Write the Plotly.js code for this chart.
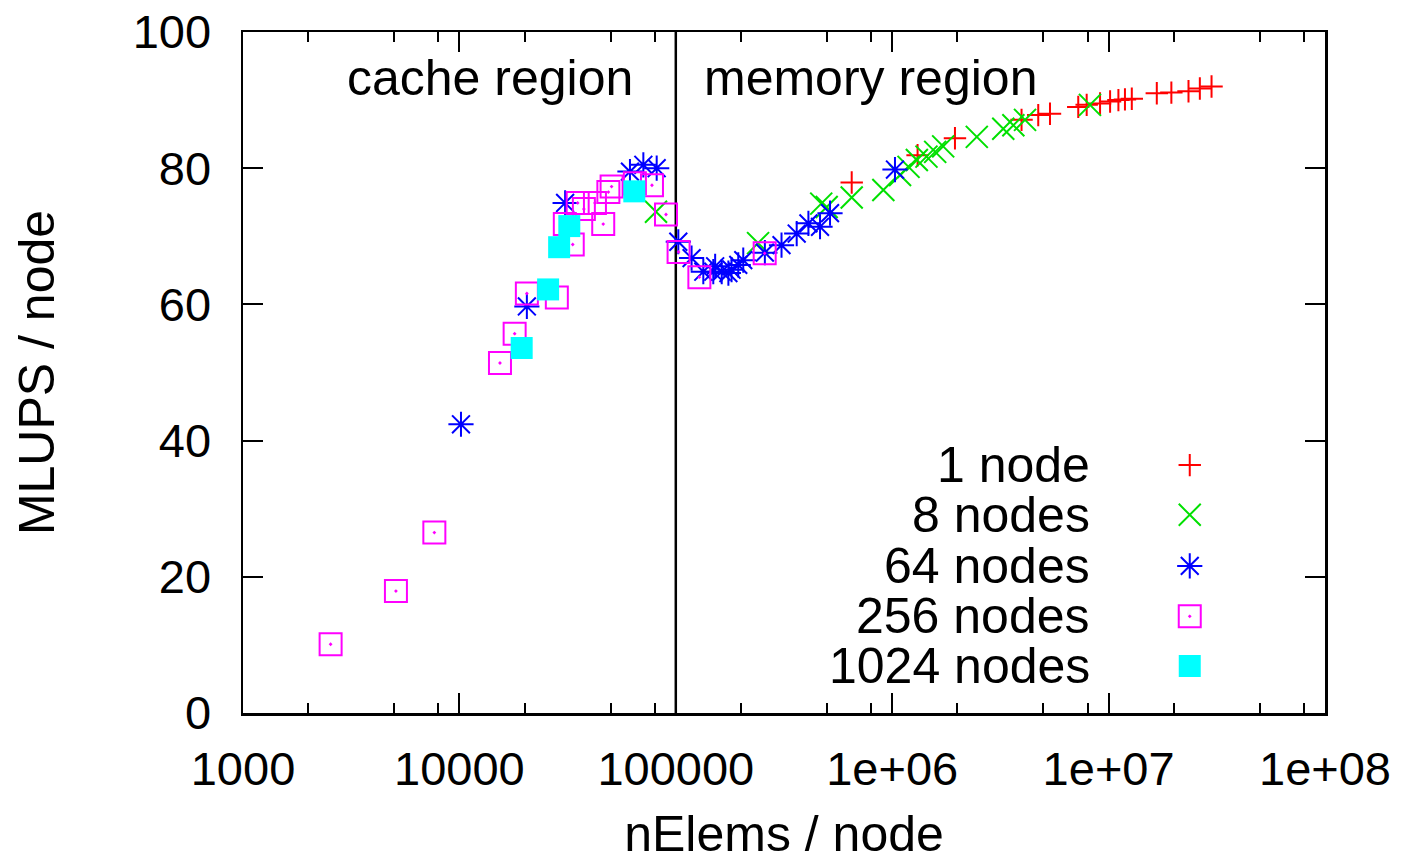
<!DOCTYPE html>
<html>
<head>
<meta charset="utf-8">
<script src="https://cdn.plot.ly/plotly-3.0.1.min.js"></script>
<style>html,body{margin:0;padding:0;background:#fff;}#chart{width:1407px;height:862px;}</style>
</head>
<body>
<div id="chart"></div>
<script>
// ---- data ----
const n1_x = [650000, 1310000, 1950000, 3960000, 4730000, 5360000, 7240000, 7920000, 9130000, 10160000, 11100000, 11900000, 12800000, 16700000, 19500000, 23400000, 26400000, 29900000];
const n1_y = [77.9, 81.9, 84.4, 87.1, 87.8, 88.0, 89.0, 89.3, 89.5, 89.8, 90.0, 90.1, 90.2, 91.0, 91.1, 91.3, 91.7, 92.0];

const n8_x = [81000, 240000, 470000, 498000, 650000, 910000, 1087000, 1190000, 1300000, 1440000, 1580000, 1720000, 2460000, 3260000, 3630000, 4110000, 8200000];
const n8_y = [73.6, 69.0, 74.8, 74.3, 75.7, 76.8, 79.0, 80.2, 81.2, 81.7, 82.4, 83.2, 84.6, 85.8, 86.3, 87.1, 89.3];

const n64_x = [10170, 20500, 30800, 61400, 70800, 81600, 102700, 118300, 134000, 149000, 152000, 163000, 175000, 181000, 194400, 205000, 258000, 308000, 362000, 410000, 464000, 516000, 1030000];
const n64_y = [42.4, 59.7, 74.9, 79.5, 80.5, 80.0, 69.2, 66.8, 64.8, 64.8, 65.6, 64.8, 64.6, 65.1, 65.8, 66.5, 67.6, 68.7, 70.4, 71.9, 71.4, 73.4, 79.8];

const n256_x = [2540, 5090, 7660, 15400, 18000, 20500, 28200, 30700, 33400, 35200, 37600, 42300, 46200, 48800, 50500, 64700, 77600, 90100, 103000, 128500, 257500];
const n256_y = [10.1, 17.9, 26.5, 51.4, 55.7, 61.6, 61.0, 71.8, 68.8, 74.9, 74.0, 74.9, 71.8, 76.5, 77.3, 77.8, 77.5, 73.2, 67.7, 64.0, 67.5];

const n1024_x = [19400, 25700, 28900, 32200, 64300];
const n1024_y = [53.6, 62.2, 68.4, 71.5, 76.6];

const seriesNames = ["1 node", "8 nodes", "64 nodes", "256 nodes", "1024 nodes"];
const boundary_x = [100000, 100000];
const boundary_y = [0, 100];
const xTickVals = [1000, 10000, 100000, 1e6, 1e7, 1e8];
const xTickText = ["1000", "10000", "100000", "1e+06", "1e+07", "1e+08"];
const xMinorMult = [2, 5, 8];
const yTickVals = [0, 20, 40, 60, 80, 100];
const regionLabels = ["cache region", "memory region"];

// ---- styles ----
const FONT = "Liberation Sans, Arial, Helvetica, sans-serif";
const FS = 50;      // titles, key, labels
const TFS = 47;     // tick labels
const styles = [
  {symbol: "cross-thin-open", size: 16, color: "#ff0000"},
  {symbol: "x-thin-open", size: 22, color: "#00e000"},
  {symbol: "asterisk-open", size: 21, color: "#0000ff"},
  {symbol: "square-open-dot", size: 22, color: "#ff00ff"},
  {symbol: "square", size: 22, color: "#00ffff"}
];
const xs = [n1_x, n8_x, n64_x, n256_x, n1024_x];
const ys = [n1_y, n8_y, n64_y, n256_y, n1024_y];

function mk(i) {
  const s = styles[i];
  const m = {symbol: s.symbol, size: s.size, color: s.color, line: {color: s.color, width: 2}};
  if (s.symbol === "square") m.line = {width: 0};
  return m;
}

const traces = [];
traces.push({x: boundary_x, y: boundary_y, mode: "lines", line: {color: "#000", width: 2.5}, hoverinfo: "skip", showlegend: false});
for (let i = 0; i < 5; i++) {
  traces.push({x: xs[i], y: ys[i], mode: "markers", name: seriesNames[i], marker: mk(i), showlegend: false});
}

// custom gnuplot-style key: text right-aligned, sample on right
const keyY = [0.364, 0.291, 0.216, 0.142, 0.069];
const keySymX = 0.875, keyTextX = 0.785;
for (let i = 0; i < 5; i++) {
  traces.push({x: [keySymX], y: [keyY[i]], xaxis: "x2", yaxis: "y2", mode: "markers", marker: mk(i), showlegend: false, hoverinfo: "skip"});
}

const minorVals = [];
for (let d = 1000; d < 1e8; d *= 10) xMinorMult.forEach(m => minorVals.push(m * d));

const annotations = [];
for (let i = 0; i < 5; i++) {
  annotations.push({xref: "paper", yref: "paper", x: keyTextX, y: keyY[i], xanchor: "right", yanchor: "middle", text: seriesNames[i], showarrow: false, font: {family: FONT, size: FS, color: "#000"}});
}
annotations.push({xref: "paper", yref: "paper", x: 0.228, y: 0.932, xanchor: "center", yanchor: "middle", text: regionLabels[0], showarrow: false, font: {family: FONT, size: FS, color: "#000"}});
annotations.push({xref: "paper", yref: "paper", x: 0.5795, y: 0.932, xanchor: "center", yanchor: "middle", text: regionLabels[1], showarrow: false, font: {family: FONT, size: FS, color: "#000"}});

const layout = {
  width: 1407, height: 862,
  margin: {l: 243, r: 82, t: 32, b: 149},
  paper_bgcolor: "#fff", plot_bgcolor: "#fff",
  font: {family: FONT, size: FS, color: "#000"},
  showlegend: false,
  xaxis: {
    type: "log", range: [3, 8],
    tickmode: "array", tickvals: xTickVals, ticktext: xTickText,
    ticks: "inside", ticklen: 20, tickwidth: 2, tickcolor: "#000",
    showline: true, linecolor: "#000", linewidth: 2.5, mirror: "allticks",
    showgrid: false, zeroline: false,
    tickfont: {family: FONT, size: TFS, color: "#000"},
    ticklabelstandoff: 13,
    minor: {tickmode: "array", tickvals: minorVals, ticks: "inside", ticklen: 10, tickwidth: 2, tickcolor: "#000", showgrid: false},
    title: {text: "nElems / node", font: {family: FONT, size: FS, color: "#000"}, standoff: 30}
  },
  yaxis: {
    range: [0, 100],
    tickmode: "array", tickvals: yTickVals,
    ticks: "inside", ticklen: 20, tickwidth: 2, tickcolor: "#000",
    showline: true, linecolor: "#000", linewidth: 2.5, mirror: "allticks",
    showgrid: false, zeroline: false,
    tickfont: {family: FONT, size: TFS, color: "#000"},
    ticklabelstandoff: 20,
    title: {text: "MLUPS / node", font: {family: FONT, size: FS, color: "#000"}, standoff: 62}
  },
  xaxis2: {overlaying: "x", range: [0, 1], visible: false, fixedrange: true},
  yaxis2: {overlaying: "y", range: [0, 1], visible: false, fixedrange: true},
  annotations: annotations
};

Plotly.newPlot("chart", traces, layout, {displayModeBar: false, staticPlot: true});
</script>
</body>
</html>
